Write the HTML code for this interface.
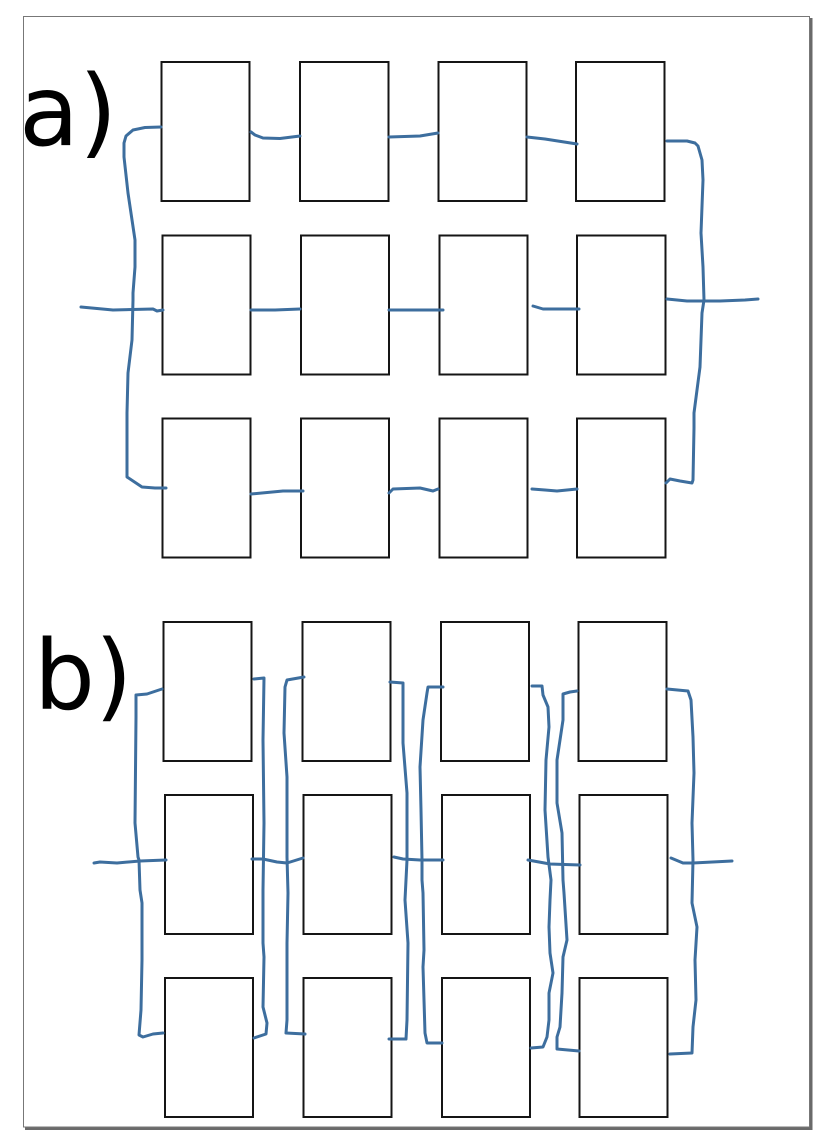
<!DOCTYPE html>
<html>
<head>
<meta charset="utf-8">
<style>
  html,body{margin:0;padding:0;background:#fff;}
  body{width:838px;height:1143px;overflow:hidden;}
  svg{display:block;}
</style>
</head>
<body>
<svg width="838" height="1143" viewBox="0 0 838 1143" xmlns="http://www.w3.org/2000/svg">
  <rect x="0" y="0" width="838" height="1143" fill="#fff"/>
  <!-- page shadow -->
  <rect x="809.5" y="18" width="3" height="1112" fill="#6a6a6a"/>
  <rect x="25" y="1127" width="787.5" height="3" fill="#6a6a6a"/>
  <!-- page border -->
  <rect x="23.5" y="16.5" width="786" height="1110.5" fill="#fff" stroke="#777" stroke-width="1"/>

  <!-- labels -->
  <text x="19" y="145" font-family="DejaVu Sans, 'Liberation Sans', sans-serif" font-size="98" fill="#000">a)</text>
  <text x="34" y="709" font-family="DejaVu Sans, 'Liberation Sans', sans-serif" font-size="96" fill="#000">b)</text>

  <!-- boxes -->
  <g fill="#fff" stroke="#151515" stroke-width="2">
    <!-- a row1 -->
    <rect x="161.5" y="62" width="88" height="139"/>
    <rect x="300" y="62" width="88.5" height="139"/>
    <rect x="438.5" y="62" width="88" height="139"/>
    <rect x="576" y="62" width="88.5" height="139"/>
    <!-- a row2 -->
    <rect x="162.5" y="235.5" width="88" height="139"/>
    <rect x="301" y="235.5" width="88" height="139"/>
    <rect x="439.5" y="235.5" width="88" height="139"/>
    <rect x="577" y="235.5" width="88.5" height="139"/>
    <!-- a row3 -->
    <rect x="162.5" y="418.5" width="88" height="139"/>
    <rect x="301" y="418.5" width="88" height="139"/>
    <rect x="439.5" y="418.5" width="88" height="139"/>
    <rect x="577" y="418.5" width="88.5" height="139"/>
    <!-- b row1 -->
    <rect x="163.5" y="622" width="88" height="139"/>
    <rect x="302.5" y="622" width="88" height="139"/>
    <rect x="441" y="622" width="88" height="139"/>
    <rect x="578.5" y="622" width="88" height="139"/>
    <!-- b row2 -->
    <rect x="165" y="795" width="88" height="139"/>
    <rect x="303.5" y="795" width="88" height="139"/>
    <rect x="442" y="795" width="88" height="139"/>
    <rect x="579.5" y="795" width="88" height="139"/>
    <!-- b row3 -->
    <rect x="165" y="978" width="88" height="139"/>
    <rect x="303.5" y="978" width="88" height="139"/>
    <rect x="442" y="978" width="88" height="139"/>
    <rect x="579.5" y="978" width="88" height="139"/>
  </g>

  <!-- wires -->
  <g fill="none" stroke="#3d6e9e" stroke-width="3" stroke-linecap="round" stroke-linejoin="round">
    <!-- ===== section a ===== -->
    <polyline points="161,127 145,127.5 133,130 126,136 124,143 124,157 128,193 135,240 135,267 133,293 133,300 132,340 128,373 127,413 127,477 142,487 155,488 166,488"/>
    <polyline points="81,307 113,310 153,309 157,311 163,310"/>
    <polyline points="251,132 255,135 263,138 280,138.5 300,136"/>
    <polyline points="389,137 420,136 438,133"/>
    <polyline points="527,137 545,139 577,144"/>
    <polyline points="667,141 687,141 695,143 698,146 702,160 703,180 701,233 703,267 704,300 702,313 700,367 694,413 694,428 693,480 692,483 680,481 670,479 666,483"/>
    <polyline points="667,299 687,301 720,301 745,300 758,299"/>
    <polyline points="251,310 275,310 300,309"/>
    <polyline points="389,310 443,310"/>
    <polyline points="533,306 543,309 579,309"/>
    <polyline points="251,494 283,491 303,491"/>
    <polyline points="389,493 393,489 420,488 433,491 438,489"/>
    <polyline points="532,489 545,490 557,491 577,489"/>

    <!-- ===== section b ===== -->
    <polyline points="94,863 100,862 117,863 140,861 166,860"/>
    <!-- wire A -->
    <polyline points="162,689 147,694 136,695 136,717 135,823 138,857 139,860 140,890 142,903 142,960 141,1010 139,1035 143,1037 153,1034 163,1033"/>
    <!-- wire B -->
    <polyline points="254,679 264,678 263,740 264,823 263,890 263,943 264,957 263,1007 267,1023 266,1034 254,1038"/>
    <polyline points="252,859 263,859 277,862 287,863 303,858"/>
    <!-- wire C -->
    <polyline points="304,677 287,680 285,687 284,733 287,777 287,857 288,893 287,943 287,1020 286,1033 305,1034"/>
    <!-- wire D -->
    <polyline points="390,682 403,683 403,693 403,743 407,793 407,860 406,880 405,900 408,943 407,1020 406,1039 389,1039"/>
    <polyline points="394,857 403,859 420,860 443,860"/>
    <!-- wire E -->
    <polyline points="443,687 428,687 427,693 423,720 420,767 421,810 422,860 422,880 423,893 424,950 423,967 424,1000 425,1033 427,1043 442,1043"/>
    <!-- wire F -->
    <polyline points="532,686 542,686 543,695 548,707 549,727 546,760 545,810 548,857 551,880 550,900 549,927 550,953 553,973 549,993 549,1020 547,1037 543,1047 531,1048"/>
    <polyline points="528,860 550,864 580,865"/>
    <!-- wire G -->
    <polyline points="577,691 570,692 563,694 563,720 557,760 557,803 562,833 563,880 564,893 567,940 563,957 562,993 560,1027 557,1037 557,1049 579,1051"/>
    <!-- wire H -->
    <polyline points="667,689 688,691 691,700 693,737 694,773 692,823 693,860 692,903 697,927 695,960 696,1000 693,1027 692,1053 670,1054"/>
    <polyline points="671,858 683,863 693,863 732,861"/>
  </g>
</svg>
</body>
</html>
